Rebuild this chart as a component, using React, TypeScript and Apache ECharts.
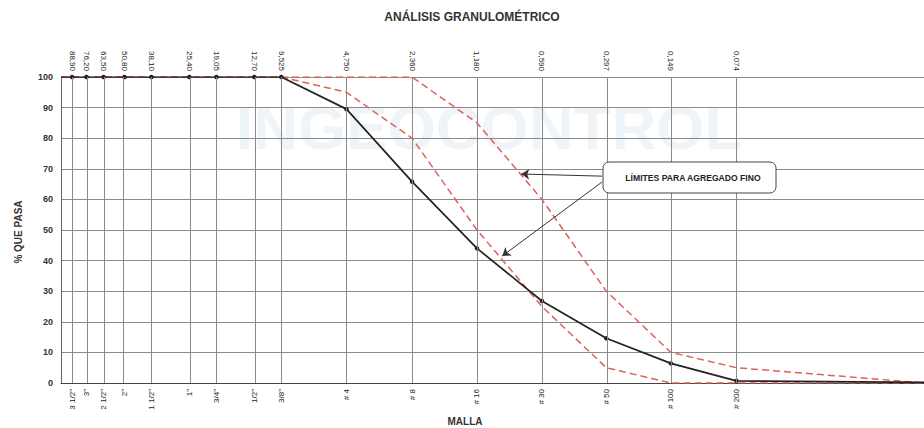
import React, { useEffect, useRef } from "react";
import * as echarts from "echarts";

const sieveSizes = [88.9, 76.2, 63.5, 50.8, 38.1, 25.4, 19.05, 12.7, 9.525, 4.75, 2.36, 1.18, 0.59, 0.297, 0.149, 0.074];
const sizeLabels = ["88,90", "76,20", "63,50", "50,80", "38,10", "25,40", "19,05", "12,70", "9,525", "4,750", "2,360", "1,180", "0,590", "0,297", "0,149", "0,074"];
const meshLabels = ['3 1/2"', '3"', '2 1/2"', '2"', '1 1/2"', '1"', '3/4"', '1/2"', '3/8"', "# 4", "# 8", "# 16", "# 30", "# 50", "# 100", "# 200"];
const passing = [100, 100, 100, 100, 100, 100, 100, 100, 100, 89.5, 65.8, 44, 26.8, 14.6, 6.4, 0.7];
const upperLimit = [100, 100, 100, 100, 100, 100, 100, 100, 100, 100, 100, 85, 60, 30, 10, 5];
const lowerLimit = [100, 100, 100, 100, 100, 100, 100, 100, 100, 95, 80, 50, 25, 5, 0, 0];
// values at the axis ends (100 mm and 0.01 mm)
const startSize = 100;
const endSize = 0.01;
const passingEnds = [100, 0.2];
const upperEnds = [100, 0];
const lowerEnds = [100, 0];
const yTicks = [0, 10, 20, 30, 40, 50, 60, 70, 80, 90, 100];

const tx = (mm: number) => -Math.log10(mm);

const findIdx = (v: number) => sieveSizes.findIndex((s) => Math.abs(tx(s) - v) < 1e-6);

const buildSeries = (vals: number[], ends: number[]) => {
  const pts: any[] = [{ value: [tx(startSize), ends[0]], symbol: "none" }];
  sieveSizes.forEach((s, i) => {
    pts.push({ value: [tx(s), vals[i]] });
  });
  pts.push({ value: [tx(endSize), ends[1]], symbol: "none" });
  return pts;
};

const FONT = "'Liberation Sans', Arial, sans-serif";

export default function App() {
  const ref = useRef<HTMLDivElement>(null);
  useEffect(() => {
    document.body.style.margin = "0";
    if (!ref.current) return;
    const chart = echarts.init(ref.current, null, { renderer: "svg" });
    const xCommon = {
      type: "value" as const,
      min: tx(startSize),
      max: tx(endSize),
      splitLine: { show: false },
      axisTick: { show: false },
    };
    chart.setOption({
      animation: false,
      backgroundColor: "#ffffff",
      grid: { left: 61, top: 77, width: 864, height: 306 },
      xAxis: [
        {
          ...xCommon,
          position: "bottom",
          axisLine: { show: true, onZero: false, lineStyle: { color: "#444", width: 1 } },
          axisLabel: {
            customValues: sieveSizes.map(tx),
            rotate: 90,
            margin: 6,
            fontSize: 8,
            color: "#222",
            fontFamily: FONT,
            formatter: (v: number) => {
              const i = findIdx(v);
              return i >= 0 ? meshLabels[i] : "";
            },
          },
        },
        {
          ...xCommon,
          position: "top",
          axisLine: { show: false, onZero: false },
          axisLabel: {
            customValues: sieveSizes.map(tx),
            rotate: 90,
            margin: 6,
            fontSize: 8,
            color: "#222",
            fontFamily: FONT,
            formatter: (v: number) => {
              const i = findIdx(v);
              return i >= 0 ? sizeLabels[i] : "";
            },
          },
        },
      ],
      yAxis: {
        type: "value",
        min: 0,
        max: 100,
        interval: 10,
        axisLine: { show: true, onZero: false, lineStyle: { color: "#666" } },
        axisTick: { show: false },
        splitLine: { show: true, lineStyle: { color: "#8a8a8a", width: 1 } },
        axisLabel: {
          margin: 8,
          fontSize: 9,
          fontWeight: "bold",
          color: "#333",
          fontFamily: FONT,
          customValues: yTicks,
        },
      },
      graphic: [
        {
          type: "text",
          z: -10,
          left: 236,
          top: 96,
          style: {
            text: "INGEOCONTROL",
            font: "bold 62px 'Liberation Sans', Arial, sans-serif",
            fill: "rgba(175,200,222,0.2)",
          },
        },
        {
          type: "text",
          x: 472,
          y: 17,
          style: {
            text: "ANÁLISIS GRANULOMÉTRICO",
            font: "bold 12px 'Liberation Sans', Arial, sans-serif",
            fill: "#333",
            align: "center",
            verticalAlign: "middle",
          },
        },
        {
          type: "text",
          x: 465,
          y: 421,
          style: {
            text: "MALLA",
            font: "bold 10px 'Liberation Sans', Arial, sans-serif",
            fill: "#333",
            align: "center",
            verticalAlign: "middle",
          },
        },
        {
          type: "text",
          x: 18,
          y: 232,
          rotation: Math.PI / 2,
          style: {
            text: "% QUE PASA",
            font: "bold 10px 'Liberation Sans', Arial, sans-serif",
            fill: "#333",
            align: "center",
            verticalAlign: "middle",
          },
        },
        {
          type: "rect",
          z: 50,
          shape: { x: 603, y: 162, width: 173, height: 31, r: 6 },
          style: { fill: "#ffffff", stroke: "#444", lineWidth: 1 },
        },
        {
          type: "text",
          z: 51,
          x: 693,
          y: 178,
          style: {
            text: "LÍMITES PARA AGREGADO FINO",
            font: "bold 8.6px 'Liberation Sans', Arial, sans-serif",
            fill: "#222",
            align: "center",
            verticalAlign: "middle",
          },
        },
      ],
      series: [
        {
          name: "grid-v",
          type: "line",
          data: [],
          xAxisIndex: 0,
          markLine: {
            silent: true,
            symbol: "none",
            label: { show: false },
            lineStyle: { color: "#8a8a8a", width: 1, type: "solid" },
            data: sieveSizes.map((s) => ({ xAxis: tx(s) })),
          },
        },
        {
          name: "Límite superior",
          type: "line",
          data: buildSeries(upperLimit, upperEnds),
          showSymbol: false,
          symbol: "none",
          lineStyle: { color: "#e0605a", width: 1.5, type: [7, 4] },
          z: 3,
        },
        {
          name: "Límite inferior",
          type: "line",
          data: buildSeries(lowerLimit, lowerEnds),
          showSymbol: false,
          symbol: "none",
          lineStyle: { color: "#e0605a", width: 1.5, type: [7, 4] },
          z: 3,
        },
        {
          name: "Muestra",
          type: "line",
          data: buildSeries(passing, passingEnds),
          symbol: "circle",
          symbolSize: 4.5,
          itemStyle: { color: "#222" },
          lineStyle: { color: "#222", width: 1.7 },
          z: 4,
        },
        {
          name: "arrows",
          type: "line",
          data: [],
          markLine: {
            silent: true,
            label: { show: false },
            symbolSize: 8,
            lineStyle: { color: "#333", width: 1, type: "solid" },
            data: [
              [
                { coord: [0.508, 67.6], symbol: "none" },
                { coord: [0.133, 68.3], symbol: "arrow" },
              ],
              [
                { coord: [0.508, 65.7], symbol: "none" },
                { coord: [0.045, 41.5], symbol: "arrow" },
              ],
            ],
          },
        },
      ],
    });
    return () => chart.dispose();
  }, []);
  return <div ref={ref} style={{ width: 924, height: 428 }} />;
}
